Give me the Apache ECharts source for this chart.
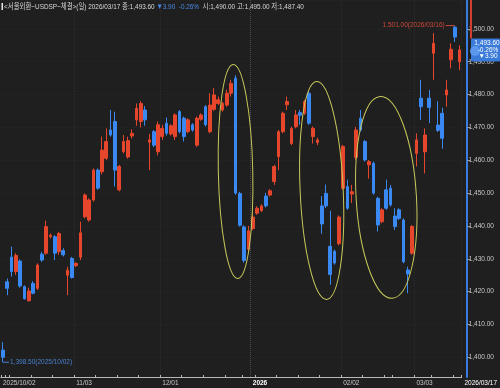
<!DOCTYPE html>
<html><head><meta charset="utf-8">
<script src="https://cdn.jsdelivr.net/npm/echarts@6/dist/echarts.min.js"></script>
<style>html,body{margin:0;padding:0;background:#1f1f1f;}#c{width:500px;height:388px;}</style>
</head><body><div id="c"></div>
<script>
// ---- data ----
const dates = [
'2025/10/02','2025/10/10','2025/10/13','2025/10/14','2025/10/15','2025/10/16','2025/10/17',
'2025/10/20','2025/10/21','2025/10/22','2025/10/23','2025/10/24',
'2025/10/27','2025/10/28','2025/10/29','2025/10/30','2025/10/31',
'2025/11/03','2025/11/04','2025/11/05','2025/11/06','2025/11/07',
'2025/11/10','2025/11/11','2025/11/12','2025/11/13','2025/11/14',
'2025/11/17','2025/11/18','2025/11/19','2025/11/20','2025/11/21',
'2025/11/24','2025/11/25','2025/11/26','2025/11/27','2025/11/28',
'2025/12/01','2025/12/02','2025/12/03','2025/12/04','2025/12/05',
'2025/12/08','2025/12/09','2025/12/10','2025/12/11','2025/12/12',
'2025/12/15','2025/12/16','2025/12/17','2025/12/18','2025/12/19',
'2025/12/22','2025/12/23','2025/12/24','2025/12/26','2025/12/29','2025/12/30',
'2026/01/02','2026/01/05','2026/01/06','2026/01/07','2026/01/08','2026/01/09',
'2026/01/12','2026/01/13','2026/01/14','2026/01/15','2026/01/16',
'2026/01/19','2026/01/20','2026/01/21','2026/01/22','2026/01/23',
'2026/01/26','2026/01/27','2026/01/28','2026/01/29','2026/01/30',
'2026/02/02','2026/02/03','2026/02/04','2026/02/05','2026/02/06',
'2026/02/09','2026/02/10','2026/02/11','2026/02/12','2026/02/13',
'2026/02/19','2026/02/20',
'2026/02/23','2026/02/24','2026/02/25','2026/02/26','2026/02/27',
'2026/03/03','2026/03/04','2026/03/05','2026/03/06',
'2026/03/09','2026/03/10','2026/03/11','2026/03/12','2026/03/13',
'2026/03/16','2026/03/17'];
const opens = [
1402.2,1423.0,1430.5,1426.1,1429.3,1421.5,1417.2,1422.5,1421.0,1431.4,1431.7,1436.7,1436.7,1432.2,1432.5,1425.0,1430.1,
1427.9,1430.5,1442.8,1441.8,1447.9,1457.0,1456.5,1460.6,1469.2,1471.8,1451.0,1462.6,1461.0,1467.4,1472.3,1471.8,1475.3,1465.5,1468.7,1462.6,
1467.2,1471.3,1468.0,1467.2,1474.8,1472.8,1468.7,1470.8,1464.6,1472.5,1476.3,1468.7,1475.5,1477.3,1475.3,1476.8,1480.4,1485.0,1449.9,1439.7,1432.9,
1439.2,1443.9,1444.7,1449.1,1449.4,1453.5,1461.1,1468.7,1476.9,1465.1,1470.2,1474.5,1474.3,1480.4,1467.2,1465.4,1446.1,1449.9,1433.8,1432.3,1434.6,
1451.5,1452.0,1449.7,1460.9,1472.8,1465.7,1458.6,1459.1,1448.4,1441.3,1451.0,1451.5,1443.0,1444.9,1441.8,1426.6,1431.7,
1462.1,1478.9,1462.6,1478.9,1492.6,1470.7,1474.3,1479.9,1490.6,1500.5,1490.0];
const closes = [
1400.0,1421.0,1426.1,1431.0,1421.7,1417.8,1420.2,1419.5,1428.1,1429.6,1439.8,1437.2,1431.7,1437.7,1431.2,1426.5,1424.3,
1428.6,1437.9,1449.4,1447.9,1457.0,1451.5,1463.1,1465.7,1467.7,1457.0,1458.1,1465.7,1466.0,1468.2,1475.8,1477.3,1472.3,1466.2,1464.6,1470.8,
1469.7,1468.2,1470.5,1473.8,1468.7,1467.2,1472.3,1469.2,1472.8,1473.8,1470.8,1476.8,1479.9,1478.4,1477.3,1480.4,1483.4,1450.0,1440.2,1429.5,1438.5,
1442.7,1445.4,1446.1,1446.1,1450.7,1458.1,1468.7,1474.3,1477.9,1469.7,1473.8,1473.7,1477.9,1471.3,1469.7,1466.2,1440.6,1446.1,1425.2,1428.7,1442.7,
1464.2,1445.4,1450.4,1469.2,1469.2,1460.1,1459.6,1450.0,1440.3,1444.9,1445.4,1446.4,1439.8,1442.3,1429.1,1425.4,1439.8,
1466.2,1476.3,1467.7,1476.1,1495.6,1469.1,1466.7,1481.4,1493.8,1497.5,1493.6];
const lows = [
1398.5,1418.9,1424.6,1425.1,1421.2,1417.6,1417.0,1419.2,1420.5,1429.1,1431.2,1436.2,1429.6,1431.2,1430.7,1418.9,1424.0,
1427.5,1429.6,1442.3,1441.3,1447.4,1451.0,1455.7,1460.1,1467.2,1452.0,1450.5,1462.1,1460.5,1466.6,1470.5,1470.0,1470.5,1457.0,1464.0,1461.5,
1466.2,1467.5,1467.5,1466.2,1468.2,1465.7,1468.2,1468.7,1464.1,1472.0,1470.3,1468.2,1475.0,1476.8,1474.8,1476.3,1479.4,1449.5,1439.8,1428.8,1432.4,
1438.7,1443.4,1444.2,1445.6,1449.0,1452.5,1457.0,1468.2,1475.3,1464.6,1469.7,1470.8,1473.8,1470.8,1465.1,1464.6,1437.6,1445.4,1422.1,1428.2,1434.1,
1451.0,1444.9,1447.0,1460.1,1468.7,1459.6,1454.4,1449.5,1438.3,1440.8,1444.9,1445.9,1438.8,1441.8,1428.6,1419.5,1431.2,
1458.1,1472.3,1456.0,1471.3,1484.5,1468.6,1463.5,1476.3,1488.0,1496.0,1487.4];
const highs = [
1404.6,1424.0,1433.7,1431.7,1429.8,1421.9,1421.2,1423.2,1428.6,1432.1,1441.6,1437.7,1437.2,1438.2,1433.2,1427.6,1430.6,
1429.0,1441.3,1449.9,1448.4,1457.5,1457.5,1467.2,1469.7,1475.3,1474.8,1458.6,1467.7,1467.2,1469.4,1477.3,1478.0,1476.5,1468.0,1469.2,1471.8,
1470.8,1473.0,1471.0,1474.3,1475.3,1473.3,1472.8,1471.3,1473.3,1474.3,1476.8,1480.4,1482.0,1479.4,1477.8,1481.5,1484.5,1485.9,1450.4,1440.2,1440.0,
1444.0,1446.0,1446.6,1450.1,1451.2,1458.6,1469.2,1474.8,1479.4,1470.2,1475.3,1475.3,1478.4,1481.0,1470.3,1466.9,1449.1,1452.6,1444.6,1432.8,1443.2,
1464.7,1454.1,1452.5,1470.2,1475.3,1466.2,1460.1,1459.6,1448.9,1445.4,1454.1,1452.5,1445.4,1445.4,1442.3,1427.6,1440.3,
1468.2,1484.5,1469.7,1481.4,1498.7,1478.0,1476.0,1484.5,1495.6,1501.0,1495.0];
const xLabelIdx = [0, 17, 37, 58, 79, 96, 106];
const highNote = { idx: 105, value: 1501.00, text: '1,501.00(2026/03/16)' };
const lowNote = { idx: 0, value: 1398.50, text: '1,398.50(2025/10/02)' };
const last = { close: 1493.60, change: '▼3.90', pct: '-0.26%', price: '1,493.60' };
const headerMain = '<서울외환~USDSP~체결>(일) 2026/03/17 종:1,493.60 ';
const headerChg = '▼3.90  -0.26%';
const headerRest = '  시:1,490.00 고:1,495.00 저:1,487.40';
// annotation ellipses in data units: [centerIndex, centerValue, radiusIndex, radiusValue, tiltDeg]
const ellipses = [[54.4, 1456.6, 4.0, 32.6, 1.2], [73.9, 1450.8, 5.5, 33.2, 2.6], [89.0, 1448.7, 7.0, 30.8, 3.4]];

// ---- chart ----
const RED = '#e6462c', BLUE = '#3a88f2';
const FONT = "'Liberation Sans','Noto Sans CJK KR',sans-serif";
const chart = echarts.init(document.getElementById('c'), null, { renderer: 'canvas' });
const ohlc = dates.map((d, i) => [opens[i], closes[i], lows[i], highs[i]]);
function isWeekStart(i) {
  if (i === 0) return true;
  const a = new Date(dates[i - 1].replace(/\//g, '-')), b = new Date(dates[i].replace(/\//g, '-'));
  return b.getDay() <= a.getDay() || (b - a) > 4 * 864e5;
}
const gridIdx = xLabelIdx.filter(i => i !== 0 && i !== dates.length - 1);
chart.setOption({
  backgroundColor: '#1f1f1f',
  animation: false,
  grid: { left: 0, right: 34.5, top: 0, bottom: 11, containLabel: false },
  xAxis: {
    type: 'category', data: dates, boundaryGap: true,
    axisLine: { show: true, lineStyle: { color: '#b8b8b8', width: 1 } },
    axisTick: { show: true, inside: true, length: 2, interval: (i) => isWeekStart(i), lineStyle: { color: '#b8b8b8' } },
    axisLabel: {
      interval: (i) => xLabelIdx.includes(i), align: 'left', margin: 3,
      color: '#c8c8c8', fontSize: 6.5, fontFamily: FONT,
      formatter: (v, i) => {
        if (i === 0) return v;
        if (i === dates.length - 1) return '{e|' + v + '}';
        if (i === 58) return '{y|' + v.slice(0, 4) + '}';
        return v.slice(5);
      },
      rich: {
        y: { color: '#ffffff', fontWeight: 'bold', fontSize: 6.5, fontFamily: FONT },
        e: { color: '#ffffff', fontSize: 6.5, fontFamily: FONT, padding: [0, 0, 0, 5] }
      }
    },
    splitLine: { show: true, interval: (i) => gridIdx.includes(i),
      lineStyle: { color: ['#2b2b2b', '#2b2b2b', '#4a4a4a', '#2b2b2b', '#2b2b2b'], type: 'dotted', width: 1 } }
  },
  yAxis: {
    type: 'value', position: 'right', offset: 5.5, min: 1394.0, max: 1508.8, splitNumber: 11, scale: true,
    axisLine: { show: true, lineStyle: { color: '#3a7de0', width: 2 } },
    axisTick: { show: true, length: 3, lineStyle: { color: '#9a9a9a' } },
    axisLabel: {
      showMinLabel: false, showMaxLabel: false, margin: 1.5, color: '#c8c8c8', fontSize: 6.5, fontFamily: FONT,
      formatter: (v) => v.toLocaleString('en-US', { minimumFractionDigits: 2, maximumFractionDigits: 2 })
    },
    splitLine: { show: true, lineStyle: { color: '#272727', type: 'dotted' } }
  },
  series: [{
    type: 'candlestick', data: ohlc, barWidth: 3.2,
    itemStyle: { color: RED, color0: BLUE, borderColor: RED, borderColor0: BLUE, borderWidth: 1 },
    markPoint: {
      symbol: 'rect', animation: false,
      data: [
        { coord: [highNote.idx, highNote.value], symbolSize: [9, 1], symbolOffset: [-5, 0],
          itemStyle: { color: '#cc4a3a' },
          label: { show: true, position: 'left', distance: 1, formatter: highNote.text, color: '#cc4a3a', fontSize: 6.5, fontFamily: FONT } },
        { coord: [lowNote.idx, lowNote.value], symbolSize: [6, 1], symbolOffset: [3, 0],
          itemStyle: { color: '#4a80d0' },
          label: { show: true, position: 'right', distance: 1, formatter: lowNote.text, color: '#4a80d0', fontSize: 6.5, fontFamily: FONT } }
      ]
    }
  }]
});

function drawOverlays() {
  const g = [];
  const px = (i, v) => chart.convertToPixel({ gridIndex: 0 }, [i, v]);
  ellipses.forEach(([ci, cv, ri, rv, tilt]) => {
    const c = px(ci, cv), r1 = px(ci + ri, cv), r2 = px(ci, cv + rv);
    g.push({ type: 'ellipse', x: c[0], y: c[1], rotation: tilt * Math.PI / 180,
      shape: { cx: 0, cy: 0, rx: Math.abs(r1[0] - c[0]), ry: Math.abs(r2[1] - c[1]) },
      style: { fill: 'none', stroke: '#c9c95c', lineWidth: 1 }, silent: true, z: 10 });
  });
  const pc = px(0, last.close);
  const axisX = 471, boxTop = pc[1] - 11.5;
  g.push({ type: 'line', shape: { x1: axisX, y1: 0, x2: axisX, y2: boxTop }, style: { stroke: '#d04030', lineWidth: 2 }, z: 20 });
  g.push({ type: 'rect', shape: { x: axisX, y: boxTop, width: 29, height: 23, r: 1 }, style: { fill: '#3a7ad8' }, z: 20 });
  g.push({ type: 'circle', shape: { cx: axisX + 4, cy: pc[1] + 1, r: 5 }, style: { fill: '#5a98ee' }, z: 20 });
  g.push({ type: 'text', x: 487, y: pc[1] - 6.5, style: { text: last.price, fill: '#ffffff', fontSize: 6.5, fontFamily: FONT, align: 'center', verticalAlign: 'middle' }, z: 21 });
  g.push({ type: 'text', x: 488, y: pc[1], style: { text: last.pct, fill: '#ffffff', fontSize: 6.5, fontFamily: FONT, align: 'center', verticalAlign: 'middle' }, z: 21 });
  g.push({ type: 'text', x: 488, y: pc[1] + 6.5, style: { text: last.change, fill: '#ffffff', fontSize: 6.5, fontFamily: FONT, align: 'center', verticalAlign: 'middle' }, z: 21 });
  g.push({ type: 'rect', shape: { x: 1.5, y: 3, width: 1.5, height: 7 }, style: { fill: '#e8e8e8' }, z: 30 });
  g.push({ type: 'text', x: 4, y: 7, scaleX: 0.8, style: {
    text: '{a|' + headerMain + '}{b|' + headerChg + '}{a|' + headerRest + '}', verticalAlign: 'middle',
    rich: { a: { fill: '#d8d8d8', fontSize: 8, fontFamily: FONT }, b: { fill: '#4a8ae8', fontSize: 8, fontFamily: FONT } } }, z: 30 });
  chart.setOption({ graphic: g });
}
drawOverlays();
</script></body></html>
